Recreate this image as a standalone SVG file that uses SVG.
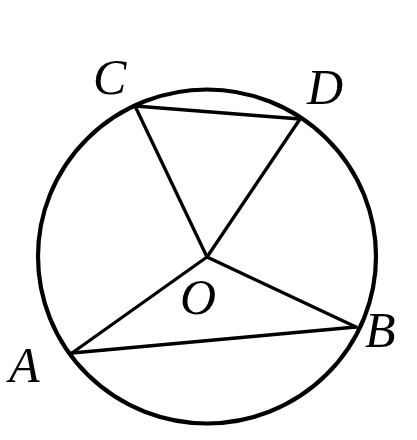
<svg xmlns="http://www.w3.org/2000/svg" width="417" height="440" viewBox="0 0 417 440">
<style>
.ln{stroke:#000;stroke-width:3.3;fill:none;stroke-linecap:round;stroke-linejoin:round}
.lb{font-family:"Liberation Serif","Times New Roman",serif;font-style:italic;font-size:50px;fill:#000}
</style>
<rect width="417" height="440" fill="#fff"/>
<g id="circle"><ellipse cx="207" cy="256.5" rx="169" ry="167" fill="none" stroke="#000" stroke-width="4.2"/></g>
<g id="connectors">
<line class="ln" x1="135" y1="106" x2="300" y2="119"/>
<line class="ln" x1="135" y1="106" x2="207" y2="257"/>
<line class="ln" x1="300" y1="119" x2="207" y2="257"/>
<line class="ln" x1="207" y1="257" x2="72" y2="353"/>
<line class="ln" x1="207" y1="257" x2="356" y2="327"/>
<line class="ln" x1="72" y1="353" x2="356" y2="327"/>
</g>
<g id="C"><text class="lb" x="93" y="94">C</text></g>
<g id="D"><text class="lb" x="307" y="104">D</text></g>
<g id="O"><text class="lb" x="180" y="314">O</text></g>
<g id="B"><text class="lb" x="365" y="347">B</text></g>
<g id="A"><text class="lb" x="9" y="382">A</text></g>
</svg>
